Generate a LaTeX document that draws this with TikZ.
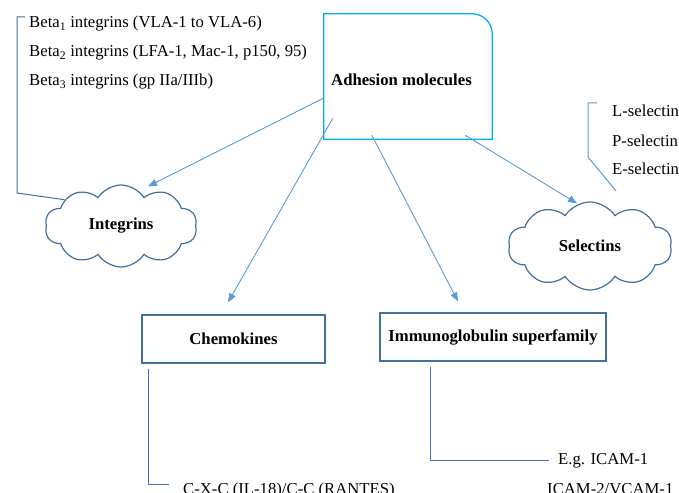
\documentclass[tikz,border=0pt]{standalone}
\usepackage{fontspec}
\setmainfont{Liberation Serif}
\usetikzlibrary{shapes.symbols, arrows.meta, positioning}

\definecolor{adhcyan}{RGB}{0,176,240}
\definecolor{arrowblue}{RGB}{91,155,213}
\definecolor{edgeblue}{RGB}{65,113,156}
\definecolor{bracketblue}{RGB}{68,114,196}
\newcommand{\diagfont}{\fontsize{16.7}{20}\selectfont}

\begin{document}
\begin{tikzpicture}[x=1pt, y=1pt,
    family/.style={rectangle, draw=edgeblue, line width=1.2pt, font=\diagfont\bfseries, inner sep=0pt},
    cloudnode/.style={cloud, cloud puffs=10, cloud puff arc=115, cloud ignores aspect, draw=edgeblue, line width=1.2pt, font=\diagfont\bfseries, inner sep=0pt},
    member/.style={anchor=base west, inner sep=0pt, font=\diagfont},
    adhline/.style={draw=adhcyan, line width=1.3pt},
    arrow/.style={draw=arrowblue, line width=0.9pt, -{Triangle[length=9pt,width=7pt]}},
    bracket/.style={draw=bracketblue, line width=1pt}
]
\useasboundingbox (0,0) rectangle (679,-492);

% Main box
\node[minimum width=168pt, minimum height=125pt, inner sep=0pt] (adh) at (408,-76.5) {};
\node[member, font=\diagfont\bfseries] (adhtxt) at (331,-86) {Adhesion molecules};
\draw[adhline] (adh.south west) |- ([xshift=-20pt]adh.north east)
    arc[start angle=90, end angle=0, radius=20pt] -- (adh.south east) -- cycle;

% Families
\node[cloudnode, minimum width=152pt, minimum height=82pt] (intg) at (121,-226) {Integrins};
\node[cloudnode, minimum width=164pt, minimum height=88pt] (sel) at (590,-246) {Selectins};
\node[family, minimum width=183pt, minimum height=48pt] (chem) at (233.5,-339) {Chemokines};
\node[family, minimum width=226pt, minimum height=48pt] (imm) at (493,-337) {Immunoglobulin superfamily};

% Members
\node[member] (b1) at (29,-28) {Beta\textsubscript{1} integrins (VLA-1 to VLA-6)};
\node[member] (b2) at (29,-57) {Beta\textsubscript{2} integrins (LFA-1, Mac-1, p150, 95)};
\node[member] (b3) at (29,-86) {Beta\textsubscript{3} integrins (gp IIa/IIIb)};
\node[member] (lsel) at (612,-117) {L-selectin};
\node[member] (psel) at (612,-146) {P-selectin};
\node[member] (esel) at (612,-174) {E-selectin};
\node[member] (cxc) at (183,-494) {C-X-C (IL-18)/C-C (RANTES)};
\node[member] (eg) at (558,-464) {E.g. ICAM-1};
\node[member] (icam) at (547,-494) {ICAM-2/VCAM-1};

\coordinate (intgbr) at (25,-17);
\coordinate (selbr) at (597,-103);
\coordinate (selend) at (616,-191);

% Connections
\draw[arrow] ([yshift=-21.5pt]adh.west) -- ([shift={(27pt,-2pt)}]intg.north);
\draw[arrow] ([shift={(9pt,21pt)}]adh.south west) -- ([shift={(-5.5pt,12pt)}]chem.north);
\draw[arrow] ([shift={(48pt,4pt)}]adh.south west) -- ([shift={(-35pt,11pt)}]imm.north);
\draw[arrow] ([shift={(-27pt,4pt)}]adh.south east) -- ([shift={(-13pt,-2pt)}]sel.north);

% Brackets
\draw[bracket, draw=edgeblue] (intgbr) -| (17,-193) -- (intg.155);
\draw[bracket, draw=arrowblue] (selbr) -| (588,-157) -- (selend);
\draw[bracket] ([shift={(7pt,-5pt)}]chem.south west) |- ([shift={(-14pt,-2.5pt)}]cxc.north west);
\draw[bracket] ([shift={(51pt,-5pt)}]imm.south west) |- ([xshift=-9pt]eg.west);

\end{tikzpicture}
\end{document}
